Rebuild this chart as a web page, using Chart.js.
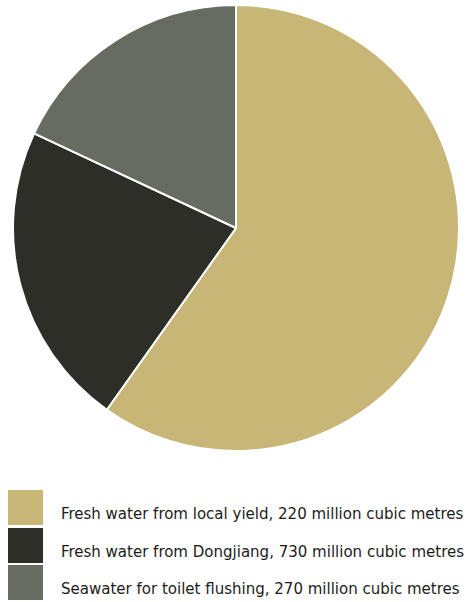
<!DOCTYPE html>
<html>
<head>
<meta charset="utf-8">
<script src="https://cdn.jsdelivr.net/npm/chart.js@4"></script>
<style>
  html, body { margin: 0; padding: 0; background: #ffffff; }
  body { width: 466px; height: 602px; position: relative; overflow: hidden; }
  #wrap { position: absolute; left: 12px; top: 4px; width: 448px; height: 448px; }
  #legend { position: absolute; left: 8px; top: 490px; width: 458px; }
  .item { position: relative; height: 35px; margin-bottom: 2.5px; }
  .box { position: absolute; left: 0; top: 0; width: 35px; height: 35px; }
  .txt { position: absolute; left: 53px; top: 13px; white-space: nowrap; line-height: 20px;
         font-family: "DejaVu Sans Condensed", "DejaVu Sans", sans-serif; font-size: 16.7px; color: #1c1c1a; }
</style>
</head>
<body>
<div id="wrap"><canvas id="c"></canvas></div>
<div id="legend"></div>
<script>
const categories = [
  "Fresh water from local yield, 220 million cubic metres",
  "Fresh water from Dongjiang, 730 million cubic metres",
  "Seawater for toilet flushing, 270 million cubic metres"
];
const values = [730, 270, 220];
const colors = ["#C8B677", "#2D2E27", "#666C60"];

new Chart(document.getElementById("c"), {
  type: "pie",
  data: {
    labels: categories,
    datasets: [{
      data: values,
      backgroundColor: colors,
      borderColor: "#ffffff",
      borderWidth: 2
    }]
  },
  options: {
    responsive: true,
    maintainAspectRatio: false,
    animation: false,
    layout: { padding: 0 },
    plugins: { legend: { display: false }, tooltip: { enabled: false } }
  }
});

const leg = document.getElementById("legend");
categories.forEach((c, i) => {
  const it = document.createElement("div");
  it.className = "item";
  const b = document.createElement("div");
  b.className = "box";
  b.style.background = colors[i];
  const t = document.createElement("div");
  t.className = "txt";
  t.textContent = c;
  it.appendChild(b); it.appendChild(t);
  leg.appendChild(it);
});
</script>
</body>
</html>
